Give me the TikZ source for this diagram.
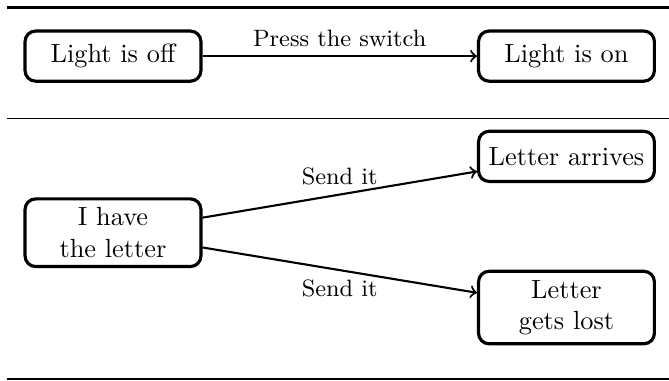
\documentclass[tikz,border=0pt]{standalone}
\tikzset{state/.style = {draw, very thick, rounded corners, align = center, minimum width = 2.35cm, minimum height = 0.67cm}}
\begin{document}
\begin{tikzpicture}
        \useasboundingbox (0,0) rectangle (8.94,5.09);
        \draw [line width = 0.8pt] (0.09,4.99) -- (8.94,4.99);
        \draw [line width = 0.5pt] (0.09,3.51) -- (8.94,3.51);
        \draw [line width = 0.8pt] (0.09,0.03) -- (8.94,0.03);
        \node [state] (1-1) at (1.51,4.34) {Light is off};
        \node [state] (1-2) at (7.57,4.34) {Light is on};
        \node [state] (2-1) at (1.51,1.98) {I have\\the letter};
        \node [state] (2-2) at (7.57,3.0) {Letter arrives};
        \node [state] (2-3) at (7.57,0.98) {Letter\\gets lost};
        \draw [thick, ->] (1-1) -- node [above] {\small Press the switch} (1-2);
        \draw [thick, ->] (2-1) -- node [above] {\small Send it} (2-2);
        \draw [thick, ->] (2-1) -- node [below] {\small Send it} (2-3);
    \end{tikzpicture}
\end{document}
